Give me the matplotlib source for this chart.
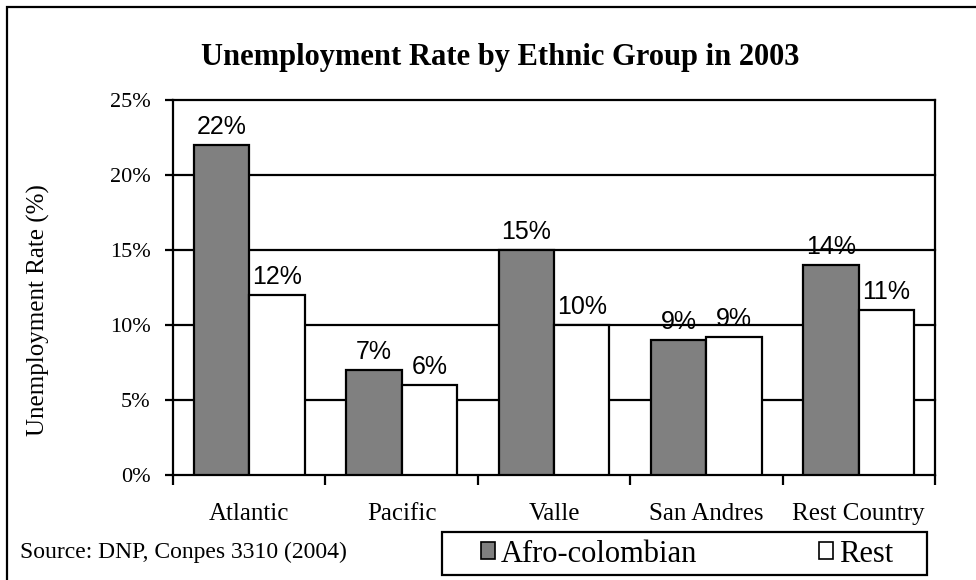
import numpy as np
import matplotlib
matplotlib.use("Agg")
from matplotlib import pyplot as plt
from matplotlib.patches import Rectangle, Patch

plt.rcParams['font.family'] = ['Liberation Serif', 'DejaVu Serif']

regions = ["Atlantic", "Pacific", "Valle", "San Andres", "Rest Country"]
afro = [22, 7, 15, 9, 14]
rest = [12, 6, 10, 9.2, 11]
yticks = [0, 5, 10, 15, 20, 25]

W, H = 976, 580
fig = plt.figure(figsize=(W / 100, H / 100), dpi=100)
ax = fig.add_axes([173 / W, 1 - 475 / H, (935 - 173) / W, 375 / H])

centers = np.arange(len(regions)) + 0.5
bw = 0.364
ax.bar(centers - bw / 2, afro, bw, color="#808080", edgecolor="black", lw=1.6, zorder=3)
ax.bar(centers + bw / 2, rest, bw, color="white", edgecolor="black", lw=1.6, zorder=3)

for c, a, r in zip(centers, afro, rest):
    ax.text(c - bw / 2, a + 0.4, "%.0f%%" % a, ha="center", va="bottom",
            family="Liberation Sans", fontsize=18)
    ax.text(c + bw / 2, r + 0.4, "%.0f%%" % r, ha="center", va="bottom",
            family="Liberation Sans", fontsize=18)

ax.set_xlim(0, len(regions))
ax.set_ylim(0, 25)
ax.set_yticks(yticks)
ax.set_yticklabels(["%d%%" % v for v in yticks], fontsize=16)
for v in yticks[1:]:
    ax.axhline(v, color="black", lw=1.6, zorder=1, clip_on=False)

ax.set_xticks(np.arange(len(regions) + 1))
ax.set_xticklabels([])
ax.set_xticks(centers, minor=True)
ax.set_xticklabels(regions, minor=True, fontsize=18)
ax.tick_params(axis="x", which="major", direction="out", length=7, width=1.6)
ax.tick_params(axis="x", which="minor", length=0, pad=20)
ax.tick_params(axis="y", direction="out", length=6, width=1.6, pad=10)

for side in ["left", "right", "bottom"]:
    ax.spines[side].set_linewidth(1.6)
ax.spines["top"].set_visible(False)

fig.text(500 / W, 1 - 57 / H, "Unemployment Rate by Ethnic Group in 2003",
         ha="center", va="center", fontsize=22, fontweight="bold")
fig.text(38 / W, 1 - 310 / H, "Unemployment Rate (%)", rotation=90,
         ha="center", va="center", fontsize=18)
fig.text(20 / W, 1 - 552 / H, "Source: DNP, Conpes 3310 (2004)",
         ha="left", va="center", fontsize=17)

# legend box
fig.patches.append(Rectangle((442 / W, 1 - 575 / H), (927 - 442) / W, 43 / H,
                             fill=False, edgecolor="black", lw=1.6,
                             transform=fig.transFigure))
handles = [Patch(facecolor="#808080", edgecolor="black", lw=1.2, label="Afro-colombian"),
           Patch(facecolor="white", edgecolor="black", lw=1.2, label="Rest")]
fig.legend(handles=handles, loc="center", ncol=2, frameon=False,
           bbox_to_anchor=(687 / W, 1 - 554 / H), fontsize=22,
           handlelength=0.45, handleheight=0.45, handletextpad=0.2,
           columnspacing=4.0, borderpad=0)

# outer frame (left and top edges only show)
fig.patches.append(Rectangle((7 / W, -0.1), 1.2, 1.1 - 7 / H, fill=False,
                             edgecolor="black", lw=1.6, transform=fig.transFigure))

fig.savefig("out.png", dpi=100)
